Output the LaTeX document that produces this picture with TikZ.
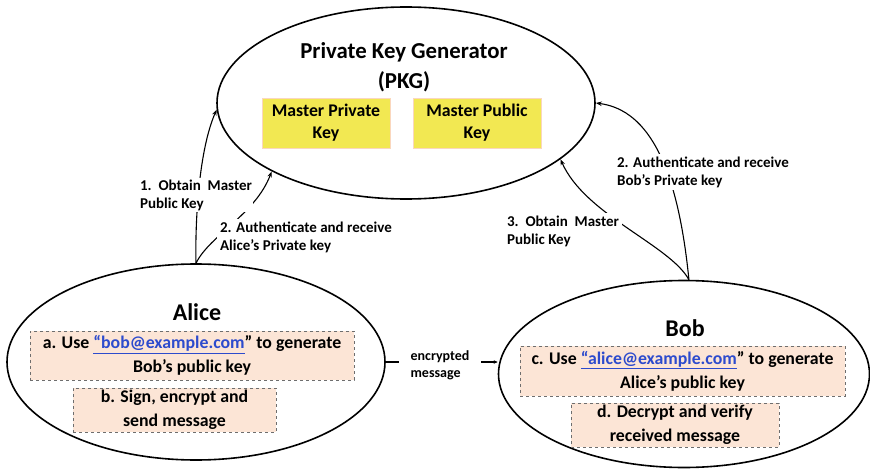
\documentclass[tikz,border=0pt]{standalone}
\usepackage{fontspec}
\setmainfont{Carlito}
\usetikzlibrary{shapes.geometric,arrows.meta}
\definecolor{keyyellow}{RGB}{242,232,82}
\definecolor{keyedge}{RGB}{250,215,190}
\definecolor{stepfill}{RGB}{252,229,214}
\definecolor{stepedge}{RGB}{110,110,110}
\definecolor{linkblue}{RGB}{45,75,205}
\tikzset{
  party/.style={draw, line width=1.6pt, ellipse, inner sep=0pt},
  keybox/.style={fill=keyyellow, draw=keyedge, line width=0.8pt, minimum width=128pt,
    minimum height=50pt, align=center, font=\bfseries\fontsize{17.8}{22}\selectfont},
  stepbox/.style={fill=stepfill, draw=stepedge, dashed, line width=0.8pt, align=center,
    font=\bfseries\fontsize{17.8}{24}\selectfont, inner sep=0pt},
  flow/.style={line width=1.1pt, -{Stealth[length=6pt,width=4.5pt]}},
  flowlabel/.style={fill=white, inner sep=1.5pt, align=left,
    font=\bfseries\fontsize{15}{18}\selectfont},
  heading/.style={font=\bfseries\fontsize{22.8}{30}\selectfont, align=center},
}
\newcommand{\mail}[1]{\textcolor{linkblue}{\underline{“#1}}”}
\begin{document}
\begin{tikzpicture}[x=1pt, y=-1pt]
  \useasboundingbox (0,0) rectangle (870,476);

  % the key generator and the two parties
  \node[party, minimum width=378pt, minimum height=192pt] (pkg) at (406,103) {};
  \node[party, minimum width=378pt, minimum height=196pt] (alice) at (196,362) {};
  \node[party, minimum width=371pt, minimum height=187pt] (bob) at (684,374) {};

  \node[heading] (pkgtitle) at (404,67) {Private Key Generator\\(PKG)};
  \node[keybox] (mpriv) at (326,123) {Master Private\\Key};
  \node[keybox] (mpub) at (477,123) {Master Public\\Key};

  \node[heading, font=\bfseries\fontsize{24}{30}\selectfont] (alicetitle) at (197,312) {Alice};
  \node[stepbox, minimum width=324pt, minimum height=49pt] (stepa) at (192,355.5)
    {a. Use \mail{bob@example.com} to generate\\Bob’s public key};
  \node[stepbox, minimum width=203pt, minimum height=44pt] (stepb) at (174.5,410)
    {b. Sign, encrypt and\\send message};

  \node[heading, font=\bfseries\fontsize{24}{30}\selectfont] (bobtitle) at (685,328) {Bob};
  \node[stepbox, minimum width=325pt, minimum height=50pt] (stepc) at (682.5,371)
    {c. Use \mail{alice@example.com} to generate\\Alice’s public key};
  \node[stepbox, minimum width=208pt, minimum height=44pt] (stepd) at (675,425)
    {d. Decrypt and verify\\received message};

  % Alice asks the generator
  \coordinate (alicetop) at (alice.north);
  \draw[flow] (alicetop) .. controls (195,220) and (199,150) .. (pkg.182);
  \draw[flow] (alicetop) .. controls (210,235) and (255,215) .. (pkg.207.5);
  \node[flowlabel] (l1) at (196,195) {1.~~Obtain~~Master\\Public Key};
  \node[flowlabel, inner sep=3pt] (l2) at (306,237) {2. Authenticate and receive\\Alice’s Private key};

  % Bob asks the generator
  \coordinate (bobtop) at (bob.87);
  \draw[flow] (bobtop) .. controls (670,245) and (585,215) .. (pkg.340.7);
  \draw[flow] (bobtop) .. controls (678,170) and (650,110) .. (pkg.east);
  \node[flowlabel, inner sep=3pt] (l3) at (563,231) {3.~~Obtain~~Master\\Public Key};
  \node[flowlabel, inner sep=3pt] (l4) at (703,172) {2. Authenticate and receive\\Bob’s Private key};

  % message from Alice to Bob
  \draw[line width=1.1pt, -{Stealth[length=4pt,width=3.5pt]}] (alice.east) -- (alice.east -| bob.west);
  \node[flowlabel, font=\bfseries\fontsize{14}{17}\selectfont, inner xsep=12pt, inner ysep=1pt]
    (l5) at (440,365) {encrypted\\message};
\end{tikzpicture}
\end{document}
